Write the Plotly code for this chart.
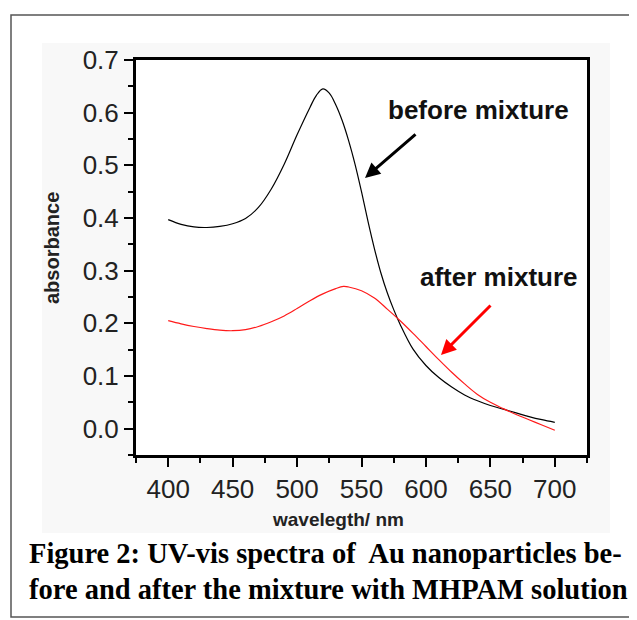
import plotly.graph_objects as go

# ---- data ----
wl_before = [400, 410, 420, 430, 440, 450, 460, 470, 480, 490, 500, 510, 515, 520, 525, 530,
             535, 540, 545, 550, 555, 560, 565, 570, 575, 580, 590, 600, 610, 620, 630, 640,
             650, 660, 670, 680, 690, 700]
abs_before = [0.397, 0.388, 0.383, 0.382, 0.384, 0.389, 0.399, 0.420, 0.455, 0.502, 0.558, 0.610,
              0.633, 0.645, 0.637, 0.615, 0.585, 0.547, 0.502, 0.450, 0.394, 0.342, 0.296, 0.258,
              0.226, 0.198, 0.151, 0.120, 0.097, 0.079, 0.064, 0.053, 0.044, 0.037, 0.030, 0.023,
              0.017, 0.012]

wl_after = [400, 410, 420, 430, 440, 450, 460, 470, 480, 490, 500, 510, 520, 530, 536, 540,
            550, 560, 570, 580, 590, 600, 610, 620, 630, 640, 650, 660, 670, 680, 690, 700]
abs_after = [0.205, 0.199, 0.194, 0.190, 0.187, 0.186, 0.188, 0.194, 0.203, 0.214, 0.228, 0.243,
             0.256, 0.266, 0.270, 0.269, 0.262, 0.248, 0.227, 0.205, 0.181, 0.156, 0.131, 0.107,
             0.085, 0.065, 0.050, 0.038, 0.027, 0.017, 0.007, -0.003]

x_ticks = [400, 450, 500, 550, 600, 650, 700]
y_ticks = [0.0, 0.1, 0.2, 0.3, 0.4, 0.5, 0.6, 0.7]

label_before = "before mixture"
label_after = "after mixture"
x_title = "wavelegth/ nm"
y_title = "absorbance"
caption1 = "Figure 2: UV-vis spectra of  Au nanoparticles be-"
caption2 = "fore and after the mixture with MHPAM solution"

# ---- layout geometry (pixels); the page body adds an 8px offset ----
OFF = 8
W, H = 629, 612
L, R, T, B = 128, 50, 52, 165
PW, PH = W - L - R, H - T - B


def px(x):
    """page x pixel -> paper coordinate"""
    return (x - OFF - L) / PW


def py(y):
    """page y pixel -> paper coordinate"""
    return (H - B - (y - OFF)) / PH


fig = go.Figure()
fig.add_trace(go.Scatter(x=wl_before, y=abs_before, mode="lines",
                         line=dict(color="#000000", width=1.2, shape="spline", smoothing=1.0),
                         showlegend=False))
fig.add_trace(go.Scatter(x=wl_after, y=abs_after, mode="lines",
                         line=dict(color="#ff1a1a", width=1.2, shape="spline", smoothing=1.0),
                         showlegend=False))

axis_common = dict(showgrid=False, zeroline=False, showline=True, linecolor="#000",
                   linewidth=3, mirror=True, ticks="outside", ticklen=9, tickwidth=2,
                   tickcolor="#000",
                   tickfont=dict(family="Liberation Sans, Arial", size=26, color="#222"))

fig.update_xaxes(range=[375, 725], tickvals=x_ticks, ticktext=[str(v) for v in x_ticks],
                 minor=dict(dtick=25, tick0=375, ticks="outside", ticklen=5, tickwidth=2,
                            tickcolor="#000", showgrid=False),
                 **axis_common)
fig.update_yaxes(range=[-0.05, 0.7], tickvals=y_ticks, ticktext=[f"{v:.1f}" for v in y_ticks],
                 minor=dict(dtick=0.05, tick0=0, ticks="outside", ticklen=5, tickwidth=2,
                            tickcolor="#000", showgrid=False),
                 **axis_common)

shapes = [
    # faint grey scan background
    dict(type="rect", xref="paper", yref="paper", x0=px(42), x1=px(610), y0=py(533), y1=py(43),
         fillcolor="#f8f8f8", line=dict(width=0), layer="below"),
    dict(type="rect", xref="x domain", yref="y domain", x0=0, x1=1, y0=0, y1=1,
         fillcolor="#ffffff", line=dict(width=0), layer="below"),
    # outer frame of the figure
    dict(type="rect", xref="paper", yref="paper", x0=px(11), x1=px(660), y0=py(617), y1=py(15),
         fillcolor="rgba(0,0,0,0)", line=dict(color="#555555", width=1.5), layer="above"),
]

txt = dict(xref="paper", yref="paper", showarrow=False, xanchor="center", yanchor="middle")
arrow = dict(xref="paper", yref="paper", axref="pixel", ayref="pixel", text="",
             showarrow=True, arrowhead=2, arrowsize=1.0, arrowwidth=3)

annotations = [
    dict(x=px(478), y=py(110), text=f"<b>{label_before}</b>",
         font=dict(family="Liberation Sans, Arial", size=26, color="#111"), **txt),
    dict(x=px(499), y=py(277), text=f"<b>{label_after}</b>",
         font=dict(family="Liberation Sans, Arial", size=26, color="#111"), **txt),
    dict(x=px(365), y=py(178), ax=52, ay=-45, arrowcolor="#000", **arrow),
    dict(x=px(441), y=py(355), ax=51, ay=-51, arrowcolor="#ff0000", **arrow),
    dict(x=px(338), y=py(519), text=f"<b>{x_title}</b>",
         font=dict(family="Liberation Sans, Arial", size=19, color="#222"), **txt),
    dict(x=px(52), y=py(248), text=f"<b>{y_title}</b>", textangle=-90,
         font=dict(family="Liberation Sans, Arial", size=20, color="#222"), **txt),
    dict(x=px(27), y=py(553), xref="paper", yref="paper", xanchor="left", yanchor="middle",
         showarrow=False, text=f"<b>{caption1}</b>",
         font=dict(family="Liberation Serif, Times New Roman", size=28.5, color="#000")),
    dict(x=px(27), y=py(589), xref="paper", yref="paper", xanchor="left", yanchor="middle",
         showarrow=False, text=f"<b>{caption2}</b>",
         font=dict(family="Liberation Serif, Times New Roman", size=28.5, color="#000")),
]

fig.update_layout(width=W, height=H, margin=dict(l=L, r=R, t=T, b=B),
                  paper_bgcolor="#ffffff", plot_bgcolor="#ffffff",
                  shapes=shapes, annotations=annotations, showlegend=False)

fig.write_html("out.html")
